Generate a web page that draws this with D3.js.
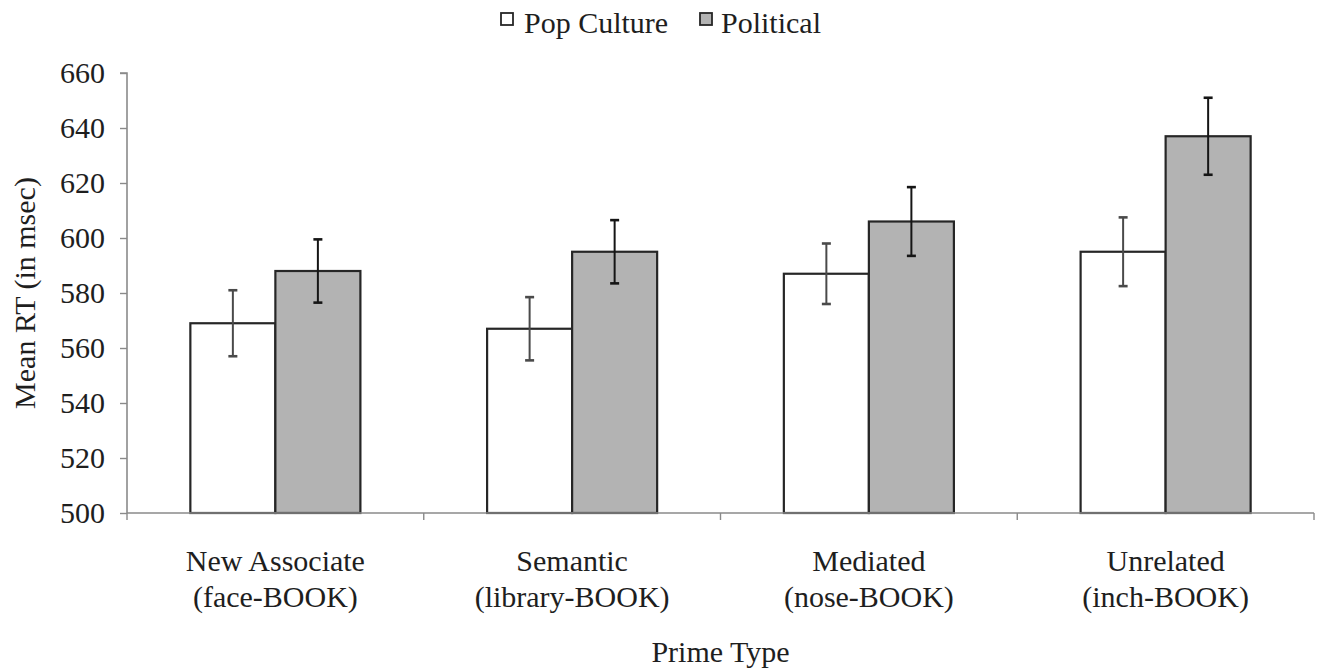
<!DOCTYPE html>
<html>
<head>
<meta charset="utf-8">
<script src="https://cdn.jsdelivr.net/npm/d3@7/dist/d3.min.js"></script>
<style>
  html, body { margin: 0; padding: 0; background: #fff; }
  svg { display: block; }
  text { font-family: "Liberation Serif", "Times New Roman", serif; fill: #1e1e1e; }
</style>
</head>
<body>
<svg id="chart" width="1326" height="672"></svg>
<script>
// Mean reaction times by prime type for two target categories
const categories = [
  ["New Associate", "(face-BOOK)"],
  ["Semantic", "(library-BOOK)"],
  ["Mediated", "(nose-BOOK)"],
  ["Unrelated", "(inch-BOOK)"]
];
const seriesNames = ["Pop Culture", "Political"];
const popCulture = [569, 567, 587, 595];
const political = [588, 595, 606, 637];
const popCultureErr = [12, 11.5, 11, 12.5];
const politicalErr = [11.5, 11.5, 12.5, 14];
const yTicks = [500, 520, 540, 560, 580, 600, 620, 640, 660];

const svg = d3.select("#chart");
const plotLeft = 127, plotRight = 1314, plotTop = 73, plotBottom = 513;
const fontSize = "30px";

const x0 = d3.scaleBand()
  .domain(d3.range(categories.length))
  .range([plotLeft, plotRight])
  .padding(0);
const gap = x0.bandwidth() * 0.2135;
const x1 = d3.scaleBand()
  .domain(seriesNames)
  .range([gap, x0.bandwidth() - gap])
  .padding(0);
const y = d3.scaleLinear().domain([500, 660]).range([plotBottom, plotTop]);

const fills = { "Pop Culture": "#ffffff", "Political": "#b3b3b3" };
const errColor = { "Pop Culture": "#4a4a4a", "Political": "#151515" };
const values = { "Pop Culture": popCulture, "Political": political };
const errors = { "Pop Culture": popCultureErr, "Political": politicalErr };

// Y axis
const yAxis = svg.append("g")
  .attr("transform", `translate(${plotLeft},0)`)
  .call(d3.axisLeft(y).tickValues(yTicks).tickSize(7).tickPadding(15).tickFormat(d3.format("d")));
yAxis.attr("font-family", null).attr("font-size", null);
yAxis.select(".domain").attr("stroke", "#8a8a8a").attr("stroke-width", 1.6)
  .attr("d", `M-7,${plotTop}H0V${plotBottom}`);
yAxis.selectAll(".tick line").attr("stroke", "#8a8a8a").attr("stroke-width", 1.4);
yAxis.selectAll(".tick text")
  .style("font-size", fontSize).attr("fill", "#1e1e1e");

// Bars
const groups = svg.append("g").selectAll("g")
  .data(categories)
  .join("g")
  .attr("transform", (d, i) => `translate(${x0(i)},0)`);

seriesNames.forEach(s => {
  groups.append("rect")
    .attr("x", (d, i) => x1(s))
    .attr("y", (d, i) => y(values[s][i]))
    .attr("width", x1.bandwidth())
    .attr("height", (d, i) => y(500) - y(values[s][i]))
    .attr("fill", fills[s])
    .attr("stroke", "#262626")
    .attr("stroke-width", 2.2);
});

// X axis (drawn over bar bottoms)
const xAxis = svg.append("g");
xAxis.append("line")
  .attr("x1", plotLeft).attr("x2", plotRight)
  .attr("y1", plotBottom).attr("y2", plotBottom)
  .attr("stroke", "#8a8a8a").attr("stroke-width", 1.6);
xAxis.selectAll("line.tick")
  .data(d3.range(categories.length + 1))
  .join("line")
  .attr("class", "tick")
  .attr("x1", i => plotLeft + i * x0.step()).attr("x2", i => plotLeft + i * x0.step())
  .attr("y1", plotBottom).attr("y2", plotBottom + 7)
  .attr("stroke", "#8a8a8a").attr("stroke-width", 1.4);

// Error bars
seriesNames.forEach(s => {
  const eg = groups.append("g").attr("stroke", errColor[s]).attr("stroke-width", 2);
  const cx = x1(s) + x1.bandwidth() / 2;
  eg.append("line")
    .attr("x1", cx).attr("x2", cx)
    .attr("y1", (d, i) => y(values[s][i] + errors[s][i]))
    .attr("y2", (d, i) => y(values[s][i] - errors[s][i]));
  [1, -1].forEach(sign => {
    eg.append("line")
      .attr("x1", cx - 4.5).attr("x2", cx + 4.5)
      .attr("y1", (d, i) => y(values[s][i] + sign * errors[s][i]))
      .attr("y2", (d, i) => y(values[s][i] + sign * errors[s][i]))
      .attr("stroke-width", 2.6);
  });
});

// Category labels
const labels = svg.append("g").selectAll("text")
  .data(categories)
  .join("text")
  .attr("text-anchor", "middle")
  .style("font-size", fontSize);
labels.append("tspan")
  .attr("x", (d, i) => x0(i) + x0.bandwidth() / 2)
  .attr("y", 571)
  .text(d => d[0]);
labels.append("tspan")
  .attr("x", (d, i) => x0(i) + x0.bandwidth() / 2)
  .attr("y", 607)
  .text(d => d[1]);

// Axis titles
svg.append("text")
  .attr("x", (plotLeft + plotRight) / 2).attr("y", 662)
  .attr("text-anchor", "middle")
  .style("font-size", fontSize)
  .text("Prime Type");
svg.append("text")
  .attr("transform", `translate(35,${(plotTop + plotBottom) / 2}) rotate(-90)`)
  .attr("text-anchor", "middle")
  .style("font-size", fontSize)
  .text("Mean RT (in msec)");

// Legend
const legendItems = [
  { name: "Pop Culture", sx: 501, tx: 524 },
  { name: "Political", sx: 700, tx: 721 }
];
const legend = svg.append("g").selectAll("g")
  .data(legendItems)
  .join("g");
legend.append("rect")
  .attr("x", d => d.sx).attr("y", 13)
  .attr("width", 12).attr("height", 12)
  .attr("fill", d => fills[d.name])
  .attr("stroke", "#262626").attr("stroke-width", 1.8);
legend.append("text")
  .attr("x", d => d.tx).attr("y", 33)
  .style("font-size", fontSize)
  .text(d => d.name);
</script>
</body>
</html>
